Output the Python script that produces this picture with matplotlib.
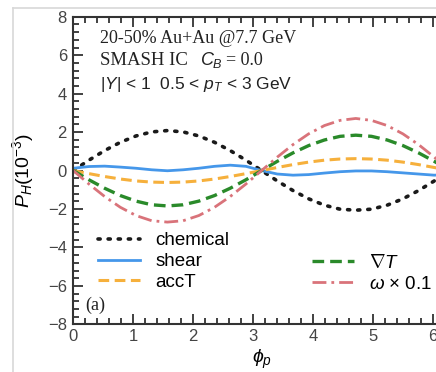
import matplotlib
matplotlib.use("Agg")
import matplotlib.pyplot as plt
from matplotlib.lines import Line2D
from matplotlib.ticker import MultipleLocator
import numpy as np

plt.rcParams["font.family"] = ["Liberation Sans", "DejaVu Sans"]
plt.rcParams["mathtext.fontset"] = "custom"
plt.rcParams["mathtext.rm"] = "Liberation Sans"
plt.rcParams["mathtext.it"] = "Liberation Sans:italic"
plt.rcParams["mathtext.bf"] = "Liberation Sans:bold"

# --- data (phi_p in 15 degree steps, P_H in 1e-3) ---
phi = np.linspace(0, 2 * np.pi, 25)

chemical = [0.00, 0.54, 1.04, 1.47, 1.80, 2.01, 2.08, 2.01, 1.80, 1.47, 1.04, 0.54,
            0.00, -0.54, -1.04, -1.47, -1.80, -2.01, -2.06, -2.01, -1.80, -1.47, -1.04, -0.54, 0.00]
shear = [0.12, 0.21, 0.23, 0.18, 0.12, 0.04, -0.01, 0.04, 0.12, 0.22, 0.28, 0.22,
         0.00, -0.18, -0.24, -0.21, -0.13, -0.06, -0.02, -0.02, -0.06, -0.12, -0.18, -0.24, -0.20]
accT = [0.00, -0.16, -0.31, -0.44, -0.54, -0.60, -0.62, -0.60, -0.54, -0.44, -0.31, -0.16,
        0.00, 0.16, 0.31, 0.44, 0.54, 0.60, 0.62, 0.60, 0.54, 0.44, 0.31, 0.16, 0.00]
gradT = [0.00, -0.48, -0.92, -1.30, -1.59, -1.78, -1.84, -1.78, -1.59, -1.30, -0.92, -0.48,
         0.00, 0.48, 0.92, 1.30, 1.59, 1.78, 1.84, 1.78, 1.59, 1.30, 0.92, 0.48, 0.00]
omega = [0.00, -0.70, -1.35, -1.91, -2.34, -2.61, -2.68, -2.61, -2.34, -1.91, -1.35, -0.70,
         0.00, 0.70, 1.35, 1.91, 2.34, 2.61, 2.71, 2.61, 2.34, 1.91, 1.35, 0.70, 0.00]

fig = plt.figure(figsize=(4.36, 3.72), dpi=100)
fig.patch.set_facecolor("white")

# light frame of the screenshot
fig.add_artist(Line2D([13 / 436, 13 / 436], [0, 1 - 8 / 372], color="#d8d8d8", lw=1.2))
fig.add_artist(Line2D([13 / 436, 1], [1 - 8 / 372, 1 - 8 / 372], color="#d8d8d8", lw=1.2))

ax = fig.add_axes([0.168, 0.128, 0.864, 0.827])

l_chem, = ax.plot(phi, chemical, color="#1a1a1a", ls=(0, (0.6, 2.2)), lw=2.6,
                  dash_capstyle="round", label="chemical")
l_shear, = ax.plot(phi, shear, color="#4597ea", lw=2.0, label="shear")
l_acc, = ax.plot(phi, accT, color="#f6b03c", ls=(0, (3.5, 1.8)), lw=2.2, label="accT")
l_grad, = ax.plot(phi, gradT, color="#2a8a2a", ls=(0, (3.5, 1.8)), lw=2.4, label=r"$\nabla T$")
l_om, = ax.plot(phi, omega, color="#d9737a", ls=(0, (5, 1.8, 1, 1.8)), lw=2.0,
                label=r"$\omega$ $\times$ 0.1")

ax.set_xlim(0, 2 * np.pi)
ax.set_ylim(-8, 8)
ax.xaxis.set_major_locator(MultipleLocator(1))
ax.xaxis.set_minor_locator(MultipleLocator(0.2))
ax.yaxis.set_major_locator(MultipleLocator(2))
ax.yaxis.set_minor_locator(MultipleLocator(0.4))
ax.tick_params(which="both", direction="in", top=True, right=True, colors="#333333",
               labelsize=12, width=1.3)
ax.tick_params(which="major", length=7)
ax.tick_params(which="minor", length=4)
ax.tick_params(axis="y", which="major", pad=4.5)
ax.tick_params(axis="x", which="major", pad=3.5)
for lab in ax.get_xticklabels() + ax.get_yticklabels():
    lab.set_color("#444444")
for s in ax.spines.values():
    s.set_linewidth(1.5)
    s.set_color("#333333")

ax.set_xlabel(r"$\phi_p$", fontsize=14)
ax.xaxis.set_label_coords(0.5, -0.075)
ax.set_ylabel(r"$P_H(10^{-3})$", fontsize=14)
ax.yaxis.set_label_coords(-0.10, 0.5)

serif = ["Liberation Serif", "DejaVu Serif"]
ax.text(0.071, 0.928, "20-50% Au+Au @7.7 GeV", transform=ax.transAxes, fontsize=13,
        family=serif, color="#222222", va="center")
ax.text(0.071, 0.859, "SMASH IC", transform=ax.transAxes, fontsize=13.5,
        family=serif, color="#222222", va="center")
ax.text(0.337, 0.859, r"$C_B$", transform=ax.transAxes, fontsize=13, color="#222222",
        va="center")
ax.text(0.405, 0.859, "= 0.0", transform=ax.transAxes, fontsize=13, family=serif,
        color="#222222", va="center")
ax.text(0.071, 0.781, r"|$Y$| < 1  0.5 < $p_T$ < 3 GeV", transform=ax.transAxes,
        fontsize=12.5, color="#222222", va="center")
ax.text(0.032, 0.035, "(a)", transform=ax.transAxes, fontsize=13, family=serif,
        color="#222222", va="bottom")

leg_kw = dict(frameon=False, fontsize=13.5, handlelength=2.25, handletextpad=0.8,
              labelspacing=0.2, borderaxespad=0, borderpad=0)
leg1 = ax.legend(handles=[l_chem, l_shear, l_acc], loc="upper left",
                 bbox_to_anchor=(0.066, 0.30), **leg_kw)
ax.add_artist(leg1)
ax.legend(handles=[l_grad, l_om], loc="upper left", bbox_to_anchor=(0.634, 0.23), **leg_kw)

fig.savefig("out.png", dpi=100)
